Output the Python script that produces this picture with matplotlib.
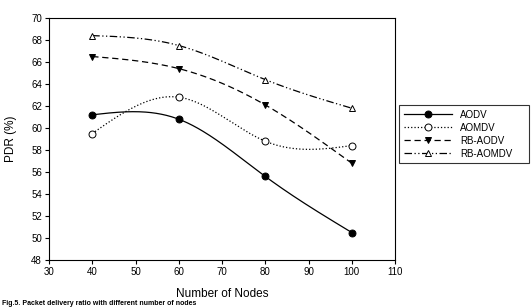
import numpy as np
import matplotlib.pyplot as plt

plt.rcParams['font.family'] = ['Liberation Sans', 'DejaVu Sans']

nodes = [40, 60, 80, 100]
aodv = [61.2, 60.8, 55.6, 50.5]
aomdv = [59.5, 62.8, 58.8, 58.4]
rb_aodv = [66.5, 65.4, 62.1, 56.8]
rb_aomdv = [68.4, 67.5, 64.4, 61.8]


def spline(x, y, num=200):
    # natural cubic spline, for the smooth connecting curve only
    x = np.asarray(x, float)
    y = np.asarray(y, float)
    n = len(x)
    h = np.diff(x)
    A = np.zeros((n, n))
    b = np.zeros(n)
    A[0, 0] = A[-1, -1] = 1
    for i in range(1, n - 1):
        A[i, i - 1] = h[i - 1]
        A[i, i] = 2 * (h[i - 1] + h[i])
        A[i, i + 1] = h[i]
        b[i] = 6 * ((y[i + 1] - y[i]) / h[i] - (y[i] - y[i - 1]) / h[i - 1])
    M = np.linalg.solve(A, b)
    xs = np.linspace(x[0], x[-1], num)
    ys = np.empty_like(xs)
    for k, t in enumerate(xs):
        i = min(np.searchsorted(x, t, side='right') - 1, n - 2)
        a, c = x[i], x[i + 1]
        hi = h[i]
        ys[k] = (M[i] * (c - t) ** 3 / (6 * hi) + M[i + 1] * (t - a) ** 3 / (6 * hi)
                 + (y[i] / hi - M[i] * hi / 6) * (c - t)
                 + (y[i + 1] / hi - M[i + 1] * hi / 6) * (t - a))
    return xs, ys


fig = plt.figure(figsize=(5.31, 3.08), dpi=100)
ax = fig.add_axes([49 / 531, 1 - 260 / 308, 346 / 531, 242 / 308])

series = [
    ('AODV', aodv, '-', 'o', 'black'),
    ('AOMDV', aomdv, ':', 'o', 'white'),
    ('RB-AODV', rb_aodv, (0, (5, 3)), 'v', 'black'),
    ('RB-AOMDV', rb_aomdv, (0, (6, 2, 1, 2, 1, 2)), '^', 'white'),
]

handles = []
for name, vals, ls, mk, fc in series:
    xs, ys = spline(nodes, vals)
    ax.plot(xs, ys, color='black', linestyle=ls, linewidth=0.9)
    ax.plot(nodes, vals, linestyle='none', marker=mk, markersize=5,
            markerfacecolor=fc, markeredgecolor='black', markeredgewidth=0.7)
    h, = ax.plot([], [], color='black', linestyle=ls, linewidth=0.9, marker=mk,
                 markersize=5, markerfacecolor=fc, markeredgecolor='black',
                 markeredgewidth=0.7, label=name)
    handles.append(h)

ax.set_xlim(30, 110)
ax.set_ylim(48, 70)
ax.set_xticks(range(30, 111, 10))
ax.set_yticks(range(48, 71, 2))
ax.tick_params(direction='out', length=3, width=0.8, labelsize=7, pad=2)
for s in ax.spines.values():
    s.set_linewidth(0.8)

ax.set_xlabel('Number of Nodes', fontsize=8.5, labelpad=8)
ax.set_ylabel('PDR (%)', fontsize=8.5, labelpad=10)

leg = fig.legend(handles=handles, loc='upper left',
                 bbox_to_anchor=(399 / 531, 1 - 163 / 308, 130 / 531, 58 / 308),
                 mode='expand', borderaxespad=0, fontsize=7, frameon=True,
                 fancybox=False, edgecolor='black', handlelength=5,
                 labelspacing=0.3, borderpad=0.5)
leg.get_frame().set_linewidth(0.8)

fig.text(0.003, 0.003, 'Fig.5. Packet delivery ratio with different number of nodes',
         fontsize=5, fontweight='bold', va='bottom', ha='left')

fig.savefig('out.png', dpi=100)
